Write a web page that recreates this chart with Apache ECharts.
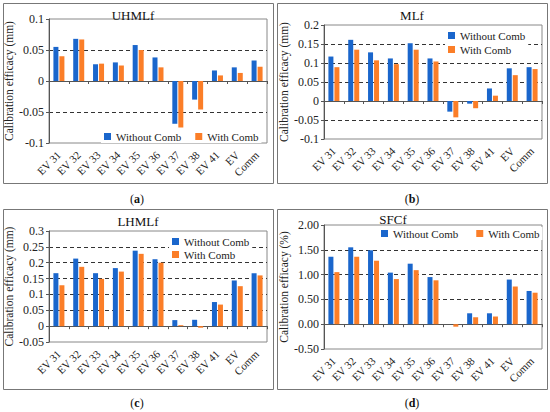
<!DOCTYPE html>
<html>
<head>
<meta charset="utf-8">
<script src="https://cdn.jsdelivr.net/npm/echarts@6/dist/echarts.min.js"></script>
<style>
  html, body { margin: 0; padding: 0; background: #fff; }
  .chart { width: 550px; height: 412px; }
</style>
</head>
<body>
<div class="chart"></div>
<script>
const categories = ['EV 31', 'EV 32', 'EV 33', 'EV 34', 'EV 35', 'EV 36', 'EV 37', 'EV 38', 'EV 41', 'EV', 'Comm']

const uhmlWithout = [0.055, 0.068, 0.027, 0.030, 0.058, 0.038, -0.069, -0.030, 0.017, 0.022, 0.033]
const uhmlWith = [0.040, 0.067, 0.028, 0.025, 0.050, 0.022, -0.075, -0.046, 0.009, 0.013, 0.023]
const mlWithout = [0.117, 0.161, 0.128, 0.112, 0.152, 0.112, -0.028, -0.007, 0.033, 0.086, 0.089]
const mlWith = [0.089, 0.135, 0.107, 0.097, 0.135, 0.104, -0.043, -0.019, 0.014, 0.068, 0.084]
const lhmlWithout = [0.167, 0.213, 0.167, 0.183, 0.238, 0.211, 0.019, 0.020, 0.076, 0.144, 0.167]
const lhmlWith = [0.129, 0.187, 0.149, 0.172, 0.228, 0.200, 0.003, -0.005, 0.068, 0.126, 0.160]
const sfcWithout = [1.36, 1.55, 1.49, 1.04, 1.22, 0.95, 0, 0.22, 0.22, 0.90, 0.67]
const sfcWith = [1.05, 1.36, 1.28, 0.91, 1.09, 0.885, -0.05, 0.14, 0.155, 0.76, 0.635]

const panelTitles = ['UHMLf', 'MLf', 'LHMLf', 'SFCf']
const panelLetters = ['a', 'b', 'c', 'd']
const yNames = ['Calibration efficacy (mm)', 'Calibration efficacy (mm)', 'Calibration efficacy (mm)', 'Calibration efficacy (%)']
const yMins = [-0.1, -0.1, -0.05, -0.5]
const yMaxs = [0.1, 0.2, 0.3, 2]
const yIntervals = [0.05, 0.05, 0.05, 0.5]
const seriesNames = ['Without Comb', 'With Comb']

const font = "'Liberation Serif', 'DejaVu Serif', serif"
const blue = '#1a66cc'
const orange = '#fb7e28'

const grids = [
  { left: 49, top: 19, width: 218, height: 124 },
  { left: 324, top: 25, width: 218, height: 114 },
  { left: 49, top: 231, width: 218, height: 111 },
  { left: 324, top: 225, width: 218, height: 124 }
]

const boxes = [[3, 3], [277, 3], [3, 209], [277, 209]]
const titlePos = [[133, 15], [412, 15], [138, 221], [393, 219]]
const letterPos = [[137, 199], [412, 199], [137, 403], [412, 403]]

const legends = [
  { left: 101, top: 130, orient: 'horizontal', itemGap: 14 },
  { left: 445, top: 29, orient: 'vertical', itemGap: 3 },
  { left: 169, top: 235, orient: 'vertical', itemGap: 2 },
  { left: 378, top: 227, orient: 'horizontal', itemGap: 18 }
]

const panelData = [
  [uhmlWithout, uhmlWith],
  [mlWithout, mlWith],
  [lhmlWithout, lhmlWith],
  [sfcWithout, sfcWith]
]

const xAxes = []
const yAxes = []
const series = []
const graphics = []

grids.forEach((g, i) => {
  // labels along the bottom
  xAxes.push({
    gridIndex: i,
    type: 'category',
    data: categories,
    position: 'bottom',
    axisLine: { show: false, onZero: false },
    axisTick: { show: false },
    axisLabel: { interval: 0, rotate: 45, fontSize: 11, fontFamily: font, color: '#222', margin: 10 }
  })
  // the line through zero with its ticks
  xAxes.push({
    gridIndex: i,
    type: 'category',
    data: categories,
    position: 'bottom',
    axisLine: { show: true, onZero: true, lineStyle: { color: '#555', width: 1 } },
    axisTick: { show: true, interval: 0, length: 3, lineStyle: { color: '#555' } },
    axisLabel: { show: false }
  })
  yAxes.push({
    gridIndex: i,
    type: 'value',
    min: yMins[i],
    max: yMaxs[i],
    interval: yIntervals[i],
    name: yNames[i],
    nameLocation: 'middle',
    nameGap: 26,
    nameTextStyle: { fontSize: 11.5, fontFamily: font, color: '#222' },
    axisLine: { show: true, lineStyle: { color: '#555' } },
    axisTick: { show: true, length: 3, lineStyle: { color: '#555' } },
    axisLabel: {
      fontSize: 12,
      fontFamily: font,
      color: '#222',
      margin: 5,
      formatter: i === 3 ? (v) => v.toFixed(2) : null
    },
    splitLine: {
      show: true,
      showMinLine: false,
      showMaxLine: false,
      lineStyle: { color: '#333', type: [4, 3], width: 1 }
    }
  })
  panelData[i].forEach((d, k) => {
    series.push({
      name: seriesNames[k],
      type: 'bar',
      xAxisIndex: i * 2,
      yAxisIndex: i,
      data: d,
      barWidth: 5,
      barGap: '20%',
      itemStyle: { color: k === 0 ? blue : orange }
    })
  })
  graphics.push({
    type: 'rect',
    shape: { x: boxes[i][0] + 0.5, y: boxes[i][1] + 0.5, width: 270, height: 180 },
    style: { fill: 'none', stroke: '#777', lineWidth: 1 },
    silent: true
  })
  graphics.push({
    type: 'text',
    x: titlePos[i][0],
    y: titlePos[i][1],
    style: { text: panelTitles[i], fontSize: 13, fontFamily: font, fill: '#111', align: 'center', verticalAlign: 'middle' }
  })
  graphics.push({
    type: 'text',
    x: letterPos[i][0],
    y: letterPos[i][1],
    style: {
      text: '{n|(}{b|' + panelLetters[i] + '}{n|)}',
      align: 'center',
      verticalAlign: 'middle',
      rich: {
        n: { fontSize: 12, fontFamily: font, fill: '#111' },
        b: { fontSize: 12, fontFamily: font, fill: '#111', fontWeight: 'bold' }
      }
    }
  })
})

const option = {
  animation: false,
  textStyle: { fontFamily: font },
  grid: grids.map((g) => Object.assign({ show: true, borderColor: '#888', borderWidth: 1, backgroundColor: 'transparent' }, g)),
  xAxis: xAxes,
  yAxis: yAxes,
  legend: legends.map((l) => Object.assign({
    data: seriesNames,
    icon: 'rect',
    itemWidth: 7,
    itemHeight: 7,
    padding: [1, 3],
    backgroundColor: '#fff',
    textStyle: { fontSize: 11, fontFamily: font, color: '#222' },
    selectedMode: false
  }, l)),
  series: series,
  graphic: graphics
}

const chartDom = echarts.init(document.querySelector('.chart'), null, { renderer: 'svg' })
chartDom.setOption(option)
</script>
</body>
</html>
